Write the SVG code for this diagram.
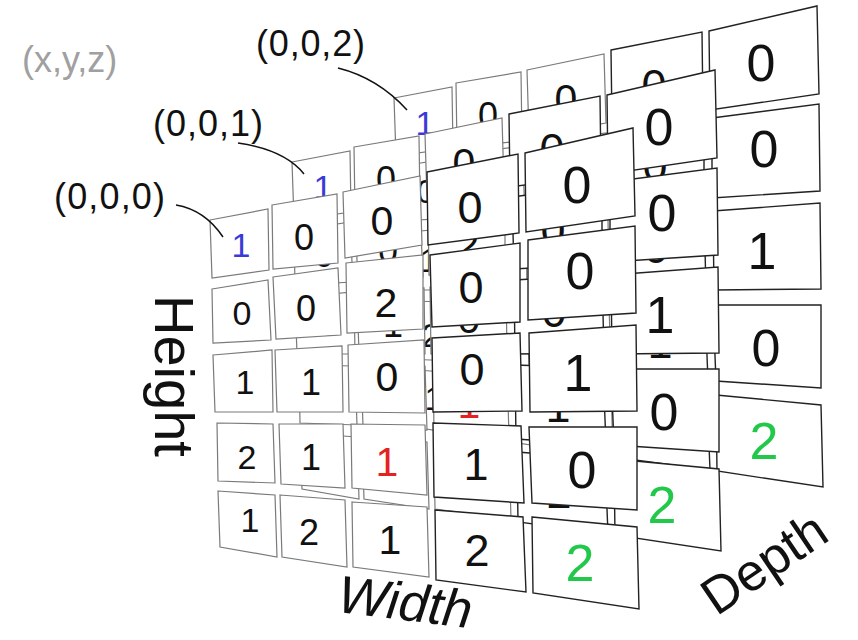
<svg xmlns="http://www.w3.org/2000/svg" xmlns:xlink="http://www.w3.org/1999/xlink" width="858" height="640" viewBox="0 0 858 640">
<style>
  .cell polygon { fill: #ffffff; }
  .lt polygon { stroke: #7a7a7a; stroke-width: 1.2; }
  .dk polygon { stroke: #222222; stroke-width: 1.4; }
  .num { font-family: "Liberation Sans", Arial, sans-serif; text-anchor: middle; fill: #111111; }
  .f0 { font-size: 34px; } .f1 { font-size: 36px; } .f2 { font-size: 41px; } .f3 { font-size: 45px; } .f4 { font-size: 52px; }
  .blue { fill: #3a3ad8; } .red { fill: #e42222; } .green { fill: #22c84a; }
  .lbl { font-family: "Liberation Sans", Arial, sans-serif; fill: #111111; }
  .lead { fill: none; stroke: #111111; stroke-width: 1.5; }
</style>
<defs>
  <g id="layer">
    <g class="cell lt"><polygon points="210,220 268,209 269,270 212,278"/><text class="num f0 blue" x="241" y="257">1</text></g>
    <g class="cell lt"><polygon points="272,205 337,194 338,263 273,269"/><text class="num f1" x="304" y="250">0</text></g>
    <g class="cell lt"><polygon points="343,192 420,176 422,245 345,258"/><text class="num f2" x="382" y="235">0</text></g>
    <g class="cell dk"><polygon points="427,172 518,154 519,233 428,245"/><text class="num f3" x="470" y="223">0</text></g>
    <g class="cell dk"><polygon points="525,153 633,128 635,216 526,232"/><text class="num f4" x="577" y="203">0</text></g>

    <g class="cell lt"><polygon points="212,289 268,280 271,340 213,343"/><text class="num f0" x="242" y="325">0</text></g>
    <g class="cell lt"><polygon points="273,277 338,268 341,335 276,339"/><text class="num f1" x="306" y="321">0</text></g>
    <g class="cell lt"><polygon points="346,263 423,255 423,329 347,333"/><text class="num f2" x="386" y="317">2</text></g>
    <g class="cell dk"><polygon points="430,255 520,243 520,322 432,327"/><text class="num f3" x="471" y="303">0</text></g>
    <g class="cell dk"><polygon points="528,240 635,226 636,313 528,320"/><text class="num f4" x="580" y="289">0</text></g>

    <g class="cell lt"><polygon points="213,355 272,350 273,412 215,412"/><text class="num f0" x="245" y="394">1</text></g>
    <g class="cell lt"><polygon points="275,350 342,346 343,412 277,412"/><text class="num f1" x="311" y="395">1</text></g>
    <g class="cell lt"><polygon points="348,345 424,340 425,413 349,412"/><text class="num f2" x="387" y="391">0</text></g>
    <g class="cell dk"><polygon points="432,338 520,333 522,411 433,412"/><text class="num f3" x="472" y="385">0</text></g>
    <g class="cell dk"><polygon points="529,333 636,325 637,411 530,412"/><text class="num f4" x="578" y="391">1</text></g>

    <g class="cell lt"><polygon points="217,423 273,424 275,483 218,481"/><text class="num f0" x="247" y="469">2</text></g>
    <g class="cell lt"><polygon points="279,424 343,424 345,488 281,484"/><text class="num f1" x="311" y="470">1</text></g>
    <g class="cell lt"><polygon points="351,424 425,425 427,495 352,488"/><text class="num f2 red" x="387" y="476">1</text></g>
    <g class="cell dk"><polygon points="433,423 521,426 524,503 434,497"/><text class="num f3" x="476" y="480">1</text></g>
    <g class="cell dk"><polygon points="529,427 637,427 637,510 532,503"/><text class="num f4" x="582" y="488">0</text></g>

    <g class="cell lt"><polygon points="218,491 275,495 277,557 220,547"/><text class="num f0" x="250" y="532">1</text></g>
    <g class="cell lt"><polygon points="280,495 345,500 347,567 282,557"/><text class="num f1" x="309" y="545">2</text></g>
    <g class="cell lt"><polygon points="352,502 427,507 429,577 353,567"/><text class="num f2" x="390" y="554">1</text></g>
    <g class="cell dk"><polygon points="435,510 523,517 526,592 436,580"/><text class="num f3" x="477" y="566">2</text></g>
    <g class="cell dk"><polygon points="532,517 637,527 639,609 533,593"/><text class="num f4 green" x="580" y="581">2</text></g>
  </g>
</defs>

<g id="layer-z2"><use xlink:href="#layer" href="#layer" x="184" y="-122"/></g>
<g id="layer-z1"><use xlink:href="#layer" href="#layer" x="82" y="-58"/></g>
<g id="layer-z0"><use xlink:href="#layer" href="#layer" x="0" y="0"/></g>

<g id="connectors">
  <path class="lead" d="M176,205 Q205,210 223,237"/>
  <path class="lead" d="M238,143 Q285,150 304,174"/>
  <path class="lead" d="M338,68 Q378,78 407,110"/>
</g>

<g id="label-xyz"><text class="lbl" x="22" y="72" font-size="36" style="fill:#a0a0a0">(x,y,z)</text></g>
<g id="label-002"><text class="lbl" x="256" y="56" font-size="36" textLength="109" lengthAdjust="spacing">(0,0,2)</text></g>
<g id="label-001"><text class="lbl" x="153" y="136" font-size="36" textLength="110" lengthAdjust="spacing">(0,0,1)</text></g>
<g id="label-000"><text class="lbl" x="54" y="209" font-size="36" textLength="111" lengthAdjust="spacing">(0,0,0)</text></g>

<g id="axis-height"><text class="lbl" font-size="56" transform="translate(155,295) rotate(90)">Height</text></g>
<g id="axis-width"><text class="lbl" font-size="53" font-style="italic" text-anchor="middle" transform="translate(403,620) rotate(7)">Width</text></g>
<g id="axis-depth"><text class="lbl" font-size="52" text-anchor="middle" transform="translate(774,578) rotate(-34)">Depth</text></g>
</svg>
